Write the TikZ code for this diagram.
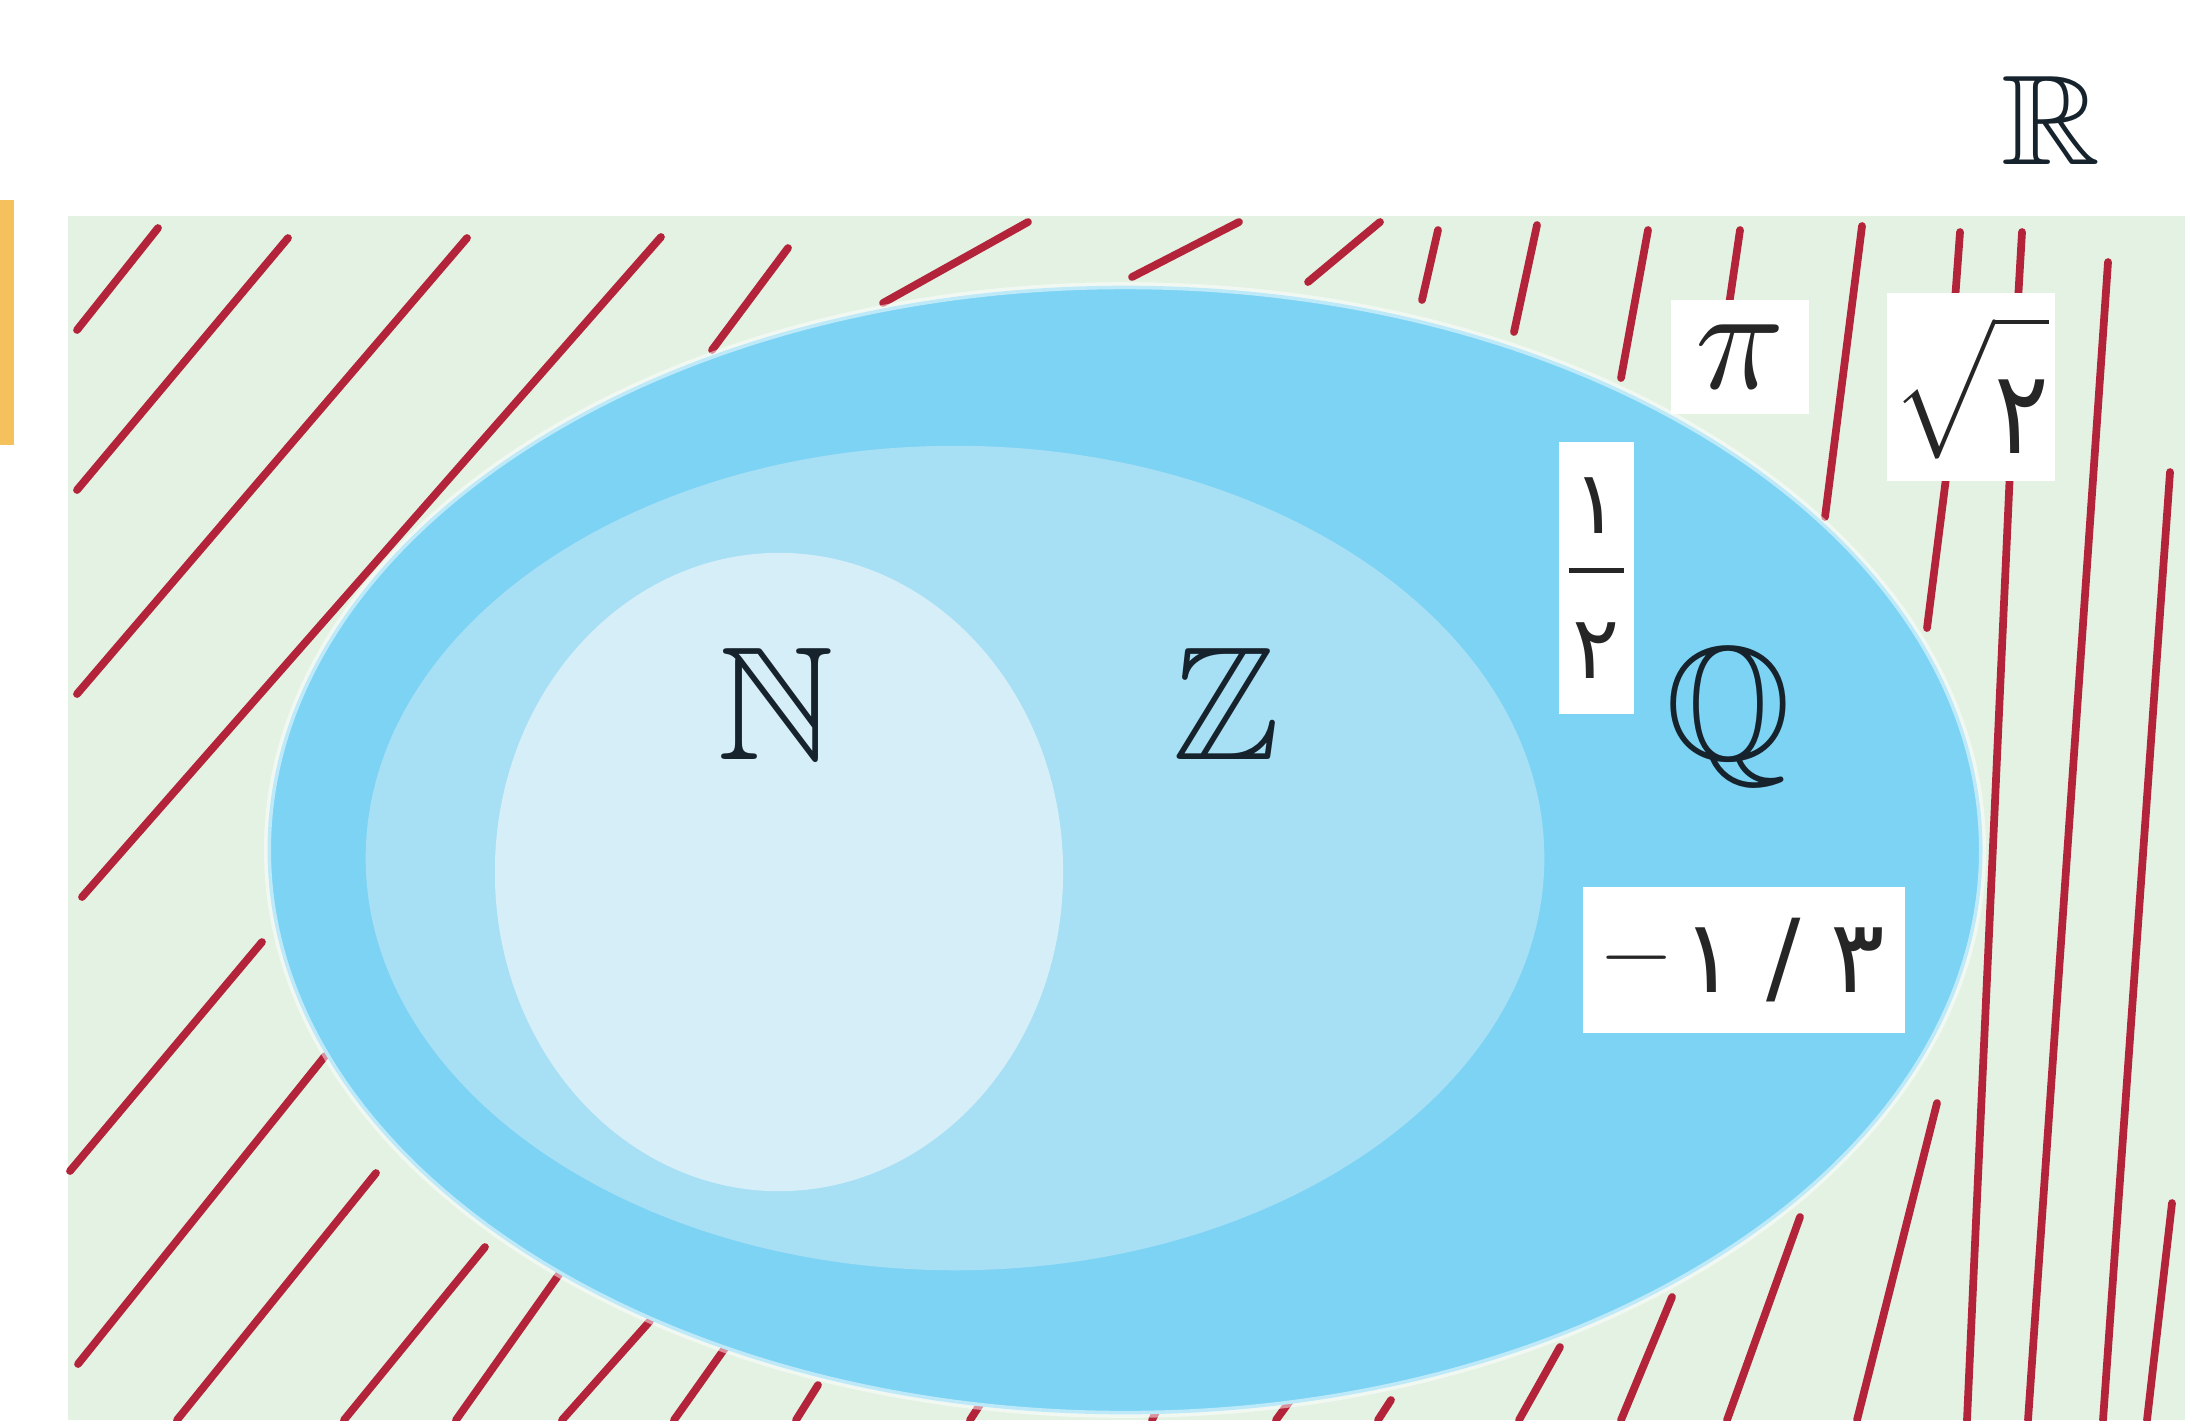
\documentclass[tikz,border=0pt]{standalone}
\usepackage{amsmath}
\usepackage{amssymb}
\usepackage{graphicx}
\usepackage{fontspec}
\newfontfamily\arabicfont[Script=Arabic]{DejaVu Sans}
\usepackage{tikz}
\usetikzlibrary{positioning}
\definecolor{SetBg}{HTML}{E3F2E3}
\definecolor{SetQ}{HTML}{7DD3F4}
\definecolor{SetZ}{HTML}{A7DFF5}
\definecolor{SetN}{HTML}{D5EEF8}
\definecolor{Hatch}{HTML}{B3243A}
\definecolor{Tab}{HTML}{F5C15C}
\definecolor{Ink}{HTML}{16222C}

\begin{document}
\begin{tikzpicture}[x=0.01cm,y=-0.01cm,
    hatch/.style={draw=Hatch,line width=2.2pt,line cap=round},
    numbox/.style={fill=white,inner sep=0pt,text=black!85},
    setname/.style={anchor=base,text=Ink}]
  \useasboundingbox (0,0) rectangle (2185,1420);
  \clip (0,0) rectangle (2185,1420);
  \fill[Tab] (0,200) rectangle (14,445);
  \fill[SetBg] (68,216) rectangle (2185,1420);
  \foreach \xa/\ya/\xb/\yb in {158/228/77/330, 288/238/77/490, 467/238/77/694,
      661/237/82/897, 788/248/712/350, 1028/222/883/303, 1239/222/1132/277,
      1380/222/1308/282, 1438/230/1422/300, 1537/225/1514/332, 1648/230/1621/378,
      1740/230/1729/305, 1862/226/1825/517, 1960/232/1955/300, 2022/232/2018/300,
      1947/470/1927/628, 2010/470/1967/1420, 2108/262/2028/1420, 2170/472/2103/1420,
      2172/1203/2147/1420, 1937/1103/1857/1420, 1800/1217/1727/1420,
      1672/1297/1621/1420, 1560/1347/1519/1420, 1391/1400/1378/1420,
      1292/1398/1276/1420, 1158/1408/1152/1420, 983/1400/970/1420,
      818/1385/796/1420, 730/1341/674/1420, 650/1321/562/1420, 560/1273/456/1420,
      485/1247/344/1420, 376/1173/177/1420, 325/1056/78/1364, 262/942/70/1171}
    \draw[hatch] (\xa,\ya) -- (\xb,\yb);
  \path[fill=SetQ,draw=white,draw opacity=0.5,line width=2pt]
    (1125,850) ellipse [x radius=8.57cm,y radius=5.64cm];
  \fill[SetZ] (955,858) ellipse [x radius=5.89cm,y radius=4.12cm];
  \fill[SetN] (779,872) ellipse [x radius=2.84cm,y radius=3.19cm];

  \node[setname] (nat) at (776,759) {\scalebox{4.6}{$\mathbb{N}$}};
  \node[setname] (int) at (1226,759) {\scalebox{4.6}{$\mathbb{Z}$}};
  \node[setname] (rat) at (1728,759) {\scalebox{4.6}{$\mathbb{Q}$}};
  \node[setname] (real) at (2051,164) {\scalebox{3.9}[3.64]{$\mathbb{R}$}};

  \node[numbox,minimum width=1.37cm,minimum height=1.14cm] (pi) at (1740,357)
    {\scalebox{4.2}{$\pi$}};
  \node[numbox,minimum width=1.67cm,minimum height=1.88cm] (root) at (1971,387)
    {\scalebox{2.9}[3.3]{$\sqrt{\rule{0pt}{0.36cm}\hbox{\arabicfont ۲}}$}};
  \node[numbox,minimum width=0.75cm,minimum height=2.71cm,align=center,
    font=\arabicfont\fontsize{25}{17}\selectfont] (half) at (1596,578)
    {۱\\\rule[0.2cm]{0.55cm}{0.045cm}\\[0.26cm]۲};
  \node[numbox,minimum width=3.22cm,minimum height=1.45cm,
    font=\arabicfont\fontsize{29}{29}\selectfont] (third) at (1744,960)
    {\raisebox{3pt}{\rmfamily\fontsize{27}{27}\selectfont −}\kern3pt\hbox{۱}\hskip0.3cm\hbox{/}\hskip0.3cm\hbox{۳}};
\end{tikzpicture}
\end{document}
